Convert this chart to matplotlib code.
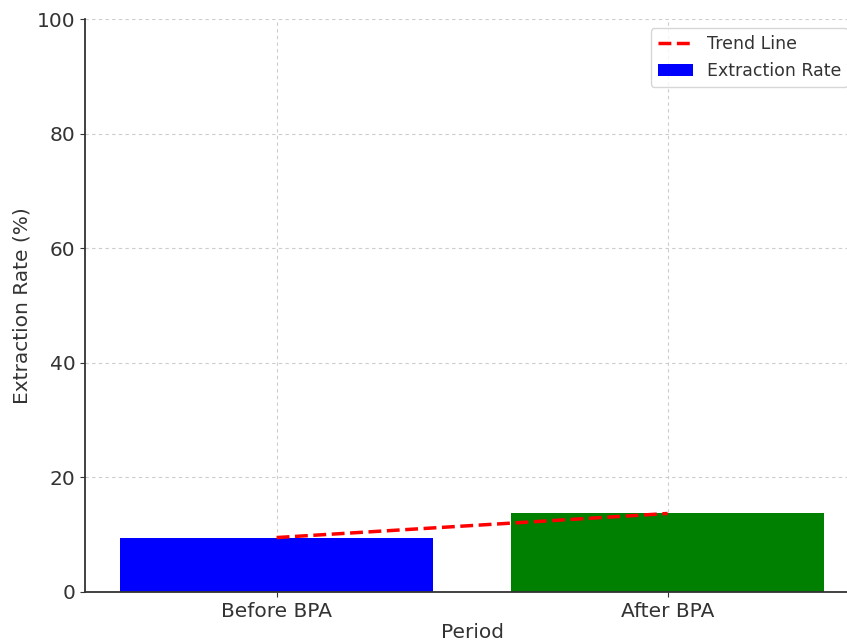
import matplotlib
matplotlib.use("Agg")
import matplotlib.pyplot as plt

periods = ['Before BPA', 'After BPA']
rates = [9.5, 13.7]
bar_colors = ['blue', 'green']

fig = plt.figure(figsize=(8.47, 6.42), dpi=100)
ax = fig.add_axes([0.1004, 0.0779, 0.914, 0.8925])

ax.bar(periods, rates, color=bar_colors, width=0.8, label='Extraction Rate', zorder=2)
ax.plot(periods, rates, color='red', linestyle='--', linewidth=2.5, label='Trend Line', zorder=3)

ax.set_ylim(0, 100)
ax.set_xlabel('Period', fontsize=14.5, color='#333333', labelpad=2)
ax.set_ylabel('Extraction Rate (%)', fontsize=14.5, color='#333333', labelpad=4)
ax.tick_params(labelsize=14.5, colors='#333333')
ax.grid(True, linestyle=(0, (3, 3)), color='#cccccc', linewidth=0.8, zorder=0)
ax.set_axisbelow(True)
for s in ['top', 'right']:
    ax.spines[s].set_visible(False)
for s in ['left', 'bottom']:
    ax.spines[s].set_color('#333333')
    ax.spines[s].set_linewidth(1.3)

leg = ax.legend(loc='upper left', fontsize=12.5, bbox_to_anchor=(0.7686, 0.956),
                bbox_transform=fig.transFigure, borderaxespad=0)
for t in leg.get_texts():
    t.set_color('#333333')

plt.savefig('out.png', dpi=100)
plt.close()
